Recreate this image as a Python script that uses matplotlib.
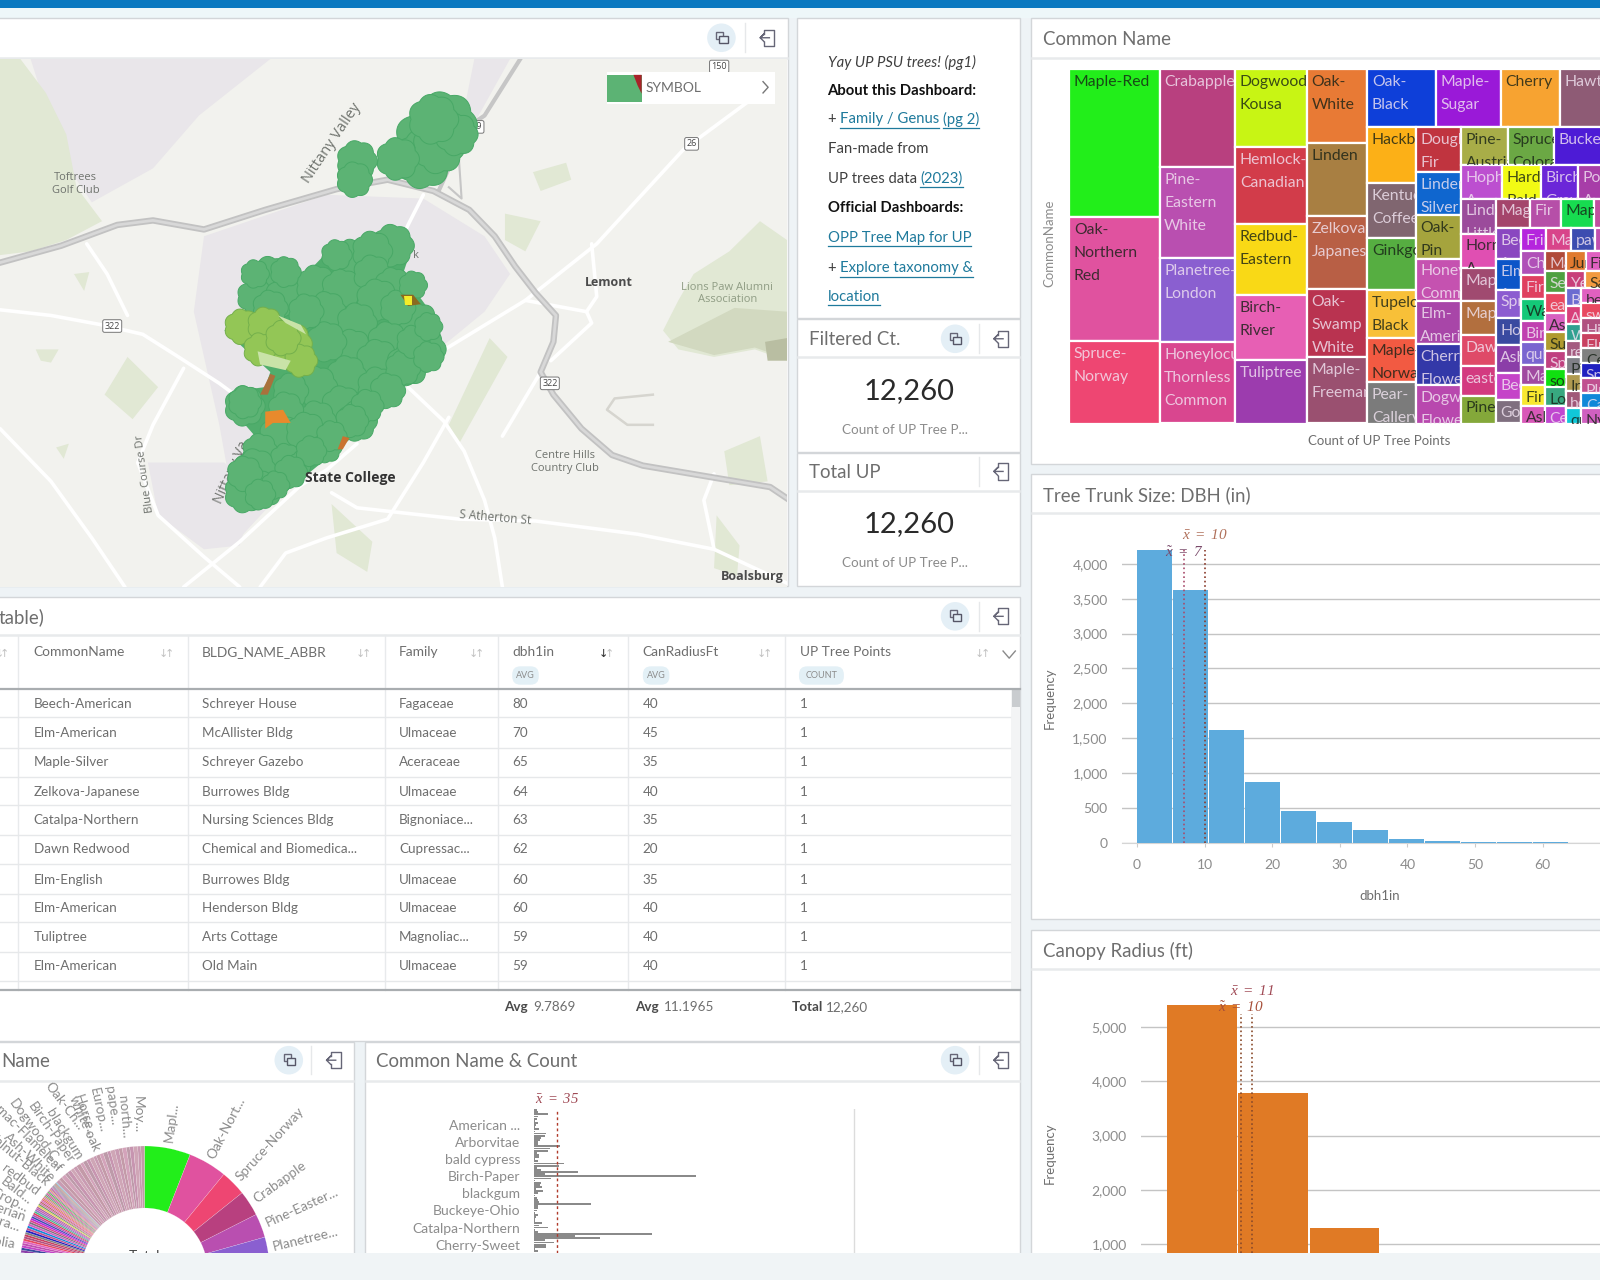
import numpy as np
import matplotlib
matplotlib.use("Agg")
import matplotlib.pyplot as plt
from matplotlib.colors import to_rgb
from matplotlib.patches import Rectangle, FancyBboxPatch, Circle
from matplotlib.path import Path
from matplotlib.ticker import StrMethodFormatter

plt.rcParams['font.family'] = ['Lato', 'DejaVu Sans']
plt.rcParams['mathtext.fontset'] = 'custom'
plt.rcParams['mathtext.rm'] = 'Liberation Serif:italic'
plt.rcParams['mathtext.it'] = 'Liberation Serif:italic'

GREY = '#6e6e6e'
LIGHT = '#8c8c8c'
LINK = '#1f7a9c'

# treemap groups: (name, count, colour)
col1 = [("Maple-Red", 763, "#22ee1a"), ("Oak-\nNorthern\nRed", 641, "#e0529f"), ("Spruce-\nNorway", 425, "#ee4672")]
col2 = [("Crabapple", 423, "#b8407f"), ("Pine-\nEastern\nWhite", 396, "#b94fb0"), ("Planetree-\nLondon", 363, "#8a5fd0"),
        ("Honeylocust-\nThornless\nCommon", 352, "#d9468f")]
col3 = [("Dogwood-\nKousa", 319, "#c8f514"), ("Hemlock-\nCanadian", 315, "#d23c4a"), ("Redbud-\nEastern", 294, "#f9d916"),
        ("Birch-\nRiver", 267, "#e75fb4"), ("Tuliptree", 259, "#9c3cae")]
col4 = [("Oak-\nWhite", 252, "#e87a35"), ("Linden", 252, "#a87f42"), ("Zelkova-\nJapanese", 250, "#b85f45"),
        ("Oak-\nSwamp\nWhite", 234, "#b93350"), ("Maple-\nFreeman", 229, "#9a5070")]
top_row = [("Oak-\nBlack", 225, "#0e3fd9"), ("Maple-\nSugar", 215, "#9a19d8"), ("Cherry", 194, "#f7a331"), ("Hawthorn", 212, "#8e5b75")]
col_a = [("Hackberry", 155, "#fcb017"), ("Kentucky\nCoffee", 152, "#806670"), ("Ginkgo", 145, "#56ae41"),
         ("Tupelo-\nBlack", 132, "#f8c038"), ("Maple-\nNorway", 123, "#f25a42"), ("Pear-\nCallery", 114, "#7b7b7b")]
col_b = [("Douglas\nFir", 117, "#c0343f"), ("Linden-\nSilver", 113, "#0f66cf"), ("Oak-\nPin", 113, "#a5a43d"),
         ("Honeylocust\nCommon", 111, "#c552b0"), ("Elm-\nAmerican", 113, "#a846a8"), ("Cherry-\nFlowering", 106, "#3338a8"),
         ("Dogwood-\nFlowering", 100, "#b848ae")]
row1 = [("Pine-\nAustrian", 100, "#a8ad48"), ("Spruce-\nColorado", 101, "#6ba844"), ("Buckeye", 152, "#4d1bd6")]
row2 = [("Hophornbeam\nA", 79, "#bc4fd0"), ("Hardy\nBald", 75, "#f2fa14"), ("Birch-\nGray", 72, "#6b26d8"), ("Poplar-\nA", 89, "#a73da8")]
col5 = [("Linden-\nLittle", 69, "#9b4b9b"), ("Hornbeam\nA", 69, "#e04fb2"), ("Maple", 65, "#a04a70"), ("Maple", 67, "#b26f3e"),
        ("Dawn", 61, "#df4a68"), ("eastern", 58, "#d33a80"), ("Pine", 55, "#84a83a")]
row3 = [("Magnolia", 56, "#a4456b"), ("Fir", 53, "#b64fa8"), ("Maple", 54, "#17dc50"), ("Mulberry", 51, "#c050a0")]
col6 = [("Beech\nA", 46, "#8a47c0"), ("Elm\nA", 44, "#0c55c8"), ("Spruce", 41, "#8c5cd0"), ("Horse", 40, "#3a4aa0"),
        ("Ash", 41, "#8b3ea8"), ("Beech", 39, "#c544c8"), ("Goldenrain", 34, "#7f6f7f")]
row4 = [("Fringetree", 33, "#b525dd"), ("Magnolia", 34, "#d8448a"), ("pawpaw", 32, "#3c4cb0"), ("Pear", 39, "#c050b0")]
col7 = [("Cherry", 32, "#b050b8"), ("Fir", 32, "#df4060"), ("Walnut", 30, "#14c878"), ("Birch", 28, "#c040b0"),
        ("quince", 30, "#7a65d0"), ("Maple", 28, "#a04aa0"), ("Fir", 27, "#f8e830"), ("Ash", 24, "#d858b8")]
row5 = [("Maple", 24, "#b04a3a"), ("Juniper", 23, "#e07a30"), ("Fir", 24, "#e060c0"), ("Oak", 21, "#c05090")]
col8 = [("Serviceberry", 26, "#4ea040"), ("eastern", 24, "#e84860"), ("Ash", 23, "#d860c0"), ("Sumac", 23, "#b09a30"),
        ("Spruce", 22, "#c04080"), ("sourwood", 21, "#10e010"), ("Locust", 23, "#38a880"), ("Cedar", 21, "#c048d0")]
row6 = [("Yew", 18, "#c8407a"), ("Sassafras", 19, "#f29a40"), ("Oak", 19, "#a05090")]
col9 = [("Birch", 16, "#6c6cd0"), ("Ash", 16, "#d8407a"), ("Willow", 15, "#30a090"), ("red", 15, "#a45a80"),
        ("Pine", 15, "#808088"), ("Ironwood", 15, "#b09a50"), ("holly", 15, "#a05878"), ("quaking", 14, "#10c8d8")]
col10 = [("beech", 37, "#e060c0"), ("sweetgum", 37, "#e84860"), ("Hickory", 37, "#b05080"), ("Elm", 37, "#c84060"),
         ("Cedar", 37, "#808080"), ("Spruce", 37, "#2020c0"), ("Plum", 37, "#c05090"), ("Catalpa", 37, "#1088d8"),
         ("Nyssa", 37, "#d060c0")]

# the rest of the species, only seen as thin pale slices of the donut
tail_counts = [62, 58, 71, 49, 66, 55, 60, 73, 52, 64, 57, 68, 50, 61, 59, 72, 53, 75, 66, 58, 70, 54, 63, 69, 51, 60]
tail_colors = ['#c99bb2', '#c39aa8', '#d3a3ba', '#bd9aa9', '#c795b0', '#cfa6b6']

# table
common_names = ["Beech-American", "Elm-American", "Maple-Silver", "Zelkova-Japanese", "Catalpa-Northern",
                "Dawn Redwood", "Elm-English", "Elm-American", "Tuliptree", "Elm-American"]
buildings = ["Schreyer House", "McAllister Bldg", "Schreyer Gazebo", "Burrowes Bldg", "Nursing Sciences Bldg",
             "Chemical and Biomedica...", "Burrowes Bldg", "Henderson Bldg", "Arts Cottage", "Old Main"]
families = ["Fagaceae", "Ulmaceae", "Aceraceae", "Ulmaceae", "Bignoniace...", "Cupressac...", "Ulmaceae", "Ulmaceae",
            "Magnoliac...", "Ulmaceae"]
dbh_vals = [80, 70, 65, 64, 63, 62, 60, 60, 59, 59]
canopy_vals = [40, 45, 35, 40, 35, 20, 35, 40, 40, 40]
point_vals = [1, 1, 1, 1, 1, 1, 1, 1, 1, 1]

# histograms
dbh_edges = [0, 5.33, 10.66, 15.99, 21.32, 26.65, 31.98, 37.31, 42.64, 47.97, 53.3, 58.63, 63.96]
dbh_freq = [4200, 3620, 1610, 870, 460, 300, 185, 60, 30, 12, 6, 3]
canopy_edges = [3.4, 9.7, 16.0, 22.3]
canopy_freq = [5406, 3794, 1295]

# common name & count bars, alphabetical
name_counts = [4, 6, 21, 6, 4, 1, 6, 3, 1, 7, 1, 19, 16, 10, 9, 6, 5, 40, 25, 22, 4, 7, 7, 1, 5, 46, 38, 4, 10, 68, 16,
               253, 26, 1, 10, 9, 12, 3, 14, 5, 1, 4, 5, 7, 88, 6, 5, 4, 1, 6, 3, 1, 1, 12, 8, 22, 1, 6, 184, 64, 103,
               17, 30, 19, 19, 1, 5]
name_ticks = [7, 15, 23, 31, 39, 47, 55, 63]
name_labels = ["American ...", "Arborvitae", "bald cypress", "Birch-Paper", "blackgum", "Buckeye-Ohio",
               "Catalpa-Northern", "Cherry-Sweet"]

donut_names = ["Mapl...", "Oak-Nort...", "Spruce-Norway", "Crabapple", "Pine-Easter...", "Planetree..."]
left_names = ["Moy...", "north...", "pape...", "Europ...", "Horse...", "white oak", "Oak-Ch...", "blackgum", "Birch-Paper",
              "Dogwood-C...", "Sumac-Flameleaf", "Ash-White", "Walnut-Black", "redbud", "Bald...", "Crop...", "Siberian",
              "Sierra...", "Magnolia"]
left_angles = [93, 98, 101.5, 106.5, 111.7, 111.6, 113.8, 120, 123.7, 129, 130, 135, 138, 143.6, 149, 152, 156, 161, 168.6]
left_radii = [138, 134, 149, 144, 143, 130, 156, 130, 131, 133, 131, 129, 130, 132, 133, 132, 130, 132, 132]
left_tilts = [-90, -85, -82, -78, -72, -66, -53, -58, -55, -54, -45, -43, -40, -37, -38, -26, -20, -18, -10]

# map: trees on campus, in map units
tree_x = [770, 690, 730, 530, 500, 560, 620, 670, 730, 770, 640, 740, 700, 820, 830, 780, 760, 690, 640, 600, 740, 680,
          620, 570, 740, 670, 620, 700, 560, 480, 550, 600, 640, 510, 560, 500, 480, 520, 590, 810, 800, 530,
          790, 760, 720, 690, 650, 610, 570, 540, 810, 840, 840, 480, 510, 500, 560, 660, 480]
tree_y = [625, 655, 640, 710, 760, 760, 730, 740, 700, 730, 800, 770, 830, 830, 900, 790, 880, 900, 880, 800, 930, 970,
          1000, 1010, 1000, 1050, 1090, 1090, 1060, 1050, 1130, 1120, 1160, 1170, 1190, 1220, 1280, 1270, 1200, 730, 940, 790,
          950, 1010, 1050, 1090, 1130, 1170, 1225, 1260, 880, 840, 920, 1230, 1285, 700, 695, 650, 1040]
tree_d = [36, 30, 34, 36, 30, 34, 34, 34, 32, 30, 34, 36, 34, 34, 38, 30, 34, 34, 34, 30, 36, 34, 36, 30, 34, 34, 34, 34, 30,
          34, 36, 34, 26, 30, 26, 36, 34, 30, 20, 24, 36, 30,
          30, 30, 28, 28, 26, 26, 28, 24, 28, 24, 26, 30, 26, 24, 26, 26, 28]
north_x = [870, 840, 830, 860, 780, 700, 695, 895, 850]
north_y = [305, 345, 395, 365, 395, 400, 450, 330, 290]
north_d = [56, 56, 50, 44, 36, 34, 30, 36, 42]
light_x = [475, 520, 570, 590, 510, 555]
light_y = [840, 835, 885, 930, 900, 870]
light_d = [30, 30, 36, 28, 28, 30]

roads_main = [[0, 120, 230, 300, 400, 520, 660, 760, 850, 920, 970, 1010, 1050, 1090, 1085, 1060, 1085, 1140, 1200, 1260, 1400, 1510, 1543],
              [670, 625, 570, 558, 582, 530, 475, 450, 480, 530, 600, 680, 750, 810, 880, 960, 1020, 1110, 1180, 1208, 1240, 1265, 1295]]
roads_arm = [[860, 880, 895, 950, 1020], [480, 420, 330, 280, 130]]
roads_white = [
    [[0, 100, 200, 280, 350, 430, 470], [795, 810, 835, 860, 920, 990, 1030]],
    [[830, 800, 790], [490, 570, 600]],
    [[0, 100, 180, 245], [1110, 1250, 1400, 1530]],
    [[170, 210, 250], [620, 700, 810]],
    [[360, 300, 270, 310, 400, 470], [950, 1100, 1200, 1340, 1450, 1530]],
    [[800, 870, 910, 950, 970, 985], [1000, 1090, 1170, 1300, 1400, 1530]],
    [[360, 470, 590, 640, 700], [1530, 1410, 1260, 1220, 1150]],
    [[650, 700, 900, 1050, 1250, 1400, 1543], [1280, 1320, 1350, 1355, 1390, 1430, 1520]],
    [[860, 1030, 1170, 1340, 1470], [910, 770, 620, 370, 240]],
    [[1030, 1150, 1170, 1160], [770, 800, 760, 620]],
    [[1150, 1160, 1080], [800, 830, 930]],
    [[880, 830, 760, 640, 560, 510], [1080, 1200, 1350, 1400, 1440, 1530]],
    [[985, 1060], [1130, 960]],
    [[1400, 1380, 1400], [1230, 1300, 1430]],
]
lavender_areas = [
    [[60, 530, 390, 300, 180, 140, 100], [130, 130, 280, 420, 510, 430, 300]],
    [[400, 640, 830, 950, 1000, 950, 860, 780, 620, 470, 430, 380], [600, 490, 500, 600, 700, 800, 900, 1000, 1180, 1400, 1100, 800]],
    [[290, 440, 500, 470, 400, 310], [1200, 1200, 1280, 1420, 1430, 1340]],
    [[930, 1000, 930, 890], [130, 130, 300, 400]],
]
green_areas = [
    [[1300, 1330, 1360, 1430, 1490, 1543, 1543, 1480, 1400, 1330], [850, 770, 700, 640, 560, 610, 930, 900, 920, 900]],
    [[0, 40, 90, 130, 150, 200, 130, 60, 0], [130, 130, 220, 330, 470, 560, 610, 640, 650]],
    [[205, 250, 310, 260], [1020, 920, 1000, 1085]],
    [[1045, 1110, 1120, 1060], [430, 405, 450, 480]],
    [[990, 1060, 1030, 990], [540, 560, 640, 610]],
    [[880, 960, 995, 900], [1100, 870, 920, 1150]],
    [[1420, 1490, 1505, 1430], [1170, 1130, 1250, 1260]],
    [[650, 730, 720, 660], [1310, 1410, 1490, 1440]],
    [[1405, 1450, 1445, 1400], [1340, 1420, 1500, 1480]],
    [[70, 115, 100, 80], [900, 900, 935, 930]],
    [[145, 175, 165], [700, 695, 745]],
    [[110, 135, 125], [1160, 1150, 1190]],
]


def rect_px(x0, y0, x1, y1, **kw):
    a = fig.add_axes([x0 / 1600, 1 - y1 / 1280, (x1 - x0) / 1600, (y1 - y0) / 1280], **kw)
    return a


fig = plt.figure(figsize=(16, 12.8), dpi=100, facecolor='#eef3f6')

# whole page works in the same pixel grid as the screenshot
ax = fig.add_axes([0, 0, 1, 1], zorder=0)
ax.set_xlim(0, 1568)
ax.set_ylim(1254.4, 0)
ax.axis('off')
ax.add_patch(Rectangle((0, 0), 1568, 8, fc='#0b79c0', ec='none'))
ax.add_patch(Rectangle((0, 8), 1568, 10, fc='#eef7f9', ec='none'))


def panel(x0, y0, x1, y1, head=None):
    ax.add_patch(Rectangle((x0, y0), x1 - x0, y1 - y0, fc='white', ec='#d3d6d9', lw=1))
    if head:
        ax.plot([x0 + 1, x1 - 1], [head, head], color='#e8eaec', lw=1.8)


panel(-2, 18, 772, 574, 57)
panel(781, 18, 1000, 312)
panel(781, 313, 1000, 443, 350)
panel(781, 444, 1000, 574, 481)
panel(-2, 585, 1000, 1020, 622)
panel(-2, 1021, 347, 1260, 1059)
panel(358, 1021, 1000, 1260, 1059)
panel(1010, 18, 1580, 455, 57)
panel(1010, 465, 1580, 901, 503)
panel(1010, 911, 1580, 1260, 950)


def title(x, y, s):
    ax.text(x, y + 1, s, fontsize=13.4, color=GREY, va='center')


title(1022, 38, "Common Name")
title(1022, 484, "Tree Trunk Size: DBH (in)")
title(1022, 931, "Canopy Radius (ft)")
title(793, 332, "Filtered Ct.")
title(793, 462, "Total UP")
title(-1, 604, "table)")
title(1, 1039, "Name")
title(368, 1039, "Common Name & Count")


def icon_copy(x, y):
    ax.add_patch(Circle((x, y), 14, fc='#e4eff6', ec='none'))
    ax.add_patch(Rectangle((x - 5, y - 6), 7, 7, fc='none', ec='#667', lw=1))
    ax.add_patch(Rectangle((x - 2, y - 2), 8, 7, fc='#e4eff6', ec='#556', lw=1))


def icon_exit(x, y):
    ax.plot([x - 3, x - 3, x + 7, x + 7, x - 3, x - 3], [y - 4, y - 8, y - 8, y + 8, y + 8, y + 4], color='#667', lw=1)
    ax.plot([x + 2, x - 7, x - 3, x - 7, x - 3], [y, y, y - 4, y, y + 4], color='#667', lw=1)
    ax.plot([x - 22, x - 22], [y - 14, y + 14], color='#e6e8ea', lw=1)


for cx, cy in [(707, 37), (936, 332), (936, 604), (283, 1039), (936, 1039)]:
    icon_copy(cx, cy)
for cx, cy in [(752, 37), (981, 332), (981, 462), (981, 604), (327, 1039), (981, 1039)]:
    icon_exit(cx, cy)

# info text
renderer = fig.canvas.get_renderer()


def runs(x, y, parts):
    for s, style in parts:
        kw = dict(fontsize=10.7, color='#3f3f3f', va='center')
        if style == 'link':
            kw['color'] = LINK
        if style == 'bold':
            kw.update(fontweight='bold', color='#111111')
        if style == 'ital':
            kw.update(fontstyle='italic')
        t = ax.text(x, y, s, **kw)
        box = t.get_window_extent(renderer).transformed(ax.transData.inverted())
        if style == 'link':
            ax.plot([x, box.x1], [y + 8, y + 8], color=LINK, lw=0.9)
        x = box.x1


runs(811, 61, [("Yay UP PSU trees! (pg1)", 'ital')])
runs(811, 89, [("About this Dashboard:", 'bold')])
runs(811, 117, [("+ ", None), ("Family / Genus", 'link'), (" ", None), ("(pg 2)", 'link')])
runs(811, 146, [("Fan-made from", None)])
runs(811, 175, [("UP trees data ", None), ("(2023)", 'link')])
runs(811, 204, [("Official Dashboards:", 'bold')])
runs(811, 233, [("OPP Tree Map for UP", 'link')])
runs(811, 263, [("+ ", None), ("Explore taxonomy &", 'link')])
runs(811, 291, [("location", 'link')])

for yn, ys in [(383, 421), (514, 552)]:
    ax.text(891, yn, "12,260", fontsize=21, color='#2a2a2a', ha='center', va='center')
    ax.text(887, ys, "Count of UP Tree P...", fontsize=9.7, color=LIGHT, ha='center', va='center')

# table
col_lines = [17.6, 184, 377, 488, 615, 769]
col_text = [33, 198, 391, 502, 630, 784]
row_y = [690, 718, 747, 776, 804, 832, 862, 890, 918, 947]
sep_y = [703, 733, 761, 789, 818, 847, 876, 904, 933, 961]
for xl in col_lines:
    ax.plot([xl, xl], [622, 970], color='#e8eaec', lw=1)
for ys in sep_y:
    ax.plot([-2, 990], [ys, ys], color='#e6e8ea', lw=1)
ax.plot([-2, 1000], [675, 675], color='#a9adb0', lw=1.6)
ax.plot([-2, 1000], [970, 970], color='#a9adb0', lw=1.6)
ax.add_patch(Rectangle((991, 676), 9, 294, fc='#f3f4f5', ec='none'))
ax.add_patch(Rectangle((992, 676), 8, 17, fc='#c9cccf', ec='none'))
for xt, s in zip(col_text, ["CommonName", "BLDG_NAME_ABBR", "Family", "dbh1in", "CanRadiusFt", "UP Tree Points"]):
    ax.text(xt, 639, s, fontsize=9.9, color=GREY, va='center')
for xb, s, w in [(515, "AVG", 26), (643, "AVG", 26), (805, "COUNT", 44)]:
    ax.add_patch(FancyBboxPatch((xb - w / 2, 653), w, 18, boxstyle='round,pad=0,rounding_size=8', fc='#e3f0f6', ec='none'))
    ax.text(xb, 662, s, fontsize=6.5, color=LIGHT, ha='center', va='center')
for xs in [2, 163, 356, 467, 594, 749, 963]:
    ax.text(xs - 2.8, 641, "\u2193", fontsize=8, family='DejaVu Sans', color='#c2c2c2', ha='center', va='center')
    ax.text(xs + 2.8, 641, "\u2191", fontsize=8, family='DejaVu Sans', color='#c2c2c2', ha='center', va='center')
ax.text(591.2, 641, "\u2193", fontsize=8, family='DejaVu Sans', color='#333333', ha='center', va='center')
ax.plot([983, 989, 995], [638, 645, 638], color='#8a8a8a', lw=1)
for i, yt in enumerate(row_y):
    for xt, s in zip(col_text, [common_names[i], buildings[i], families[i], dbh_vals[i], canopy_vals[i], point_vals[i]]):
        ax.text(xt, yt, str(s), fontsize=9.7, color=GREY, va='center')
runs_tot = [(494, "Avg", 523, "9.7869"), (622, "Avg", 651, "11.1965"), (776, "Total", 809, "12,260")]
for xa, a, xb, b in runs_tot:
    ax.text(xa, 987, a, fontsize=9.7, fontweight='bold', color='#4a4a4a', va='center')
    ax.text(xb, 987, b, fontsize=9.7, color=GREY, va='center')

ax.text(1028, 238, "CommonName", fontsize=9.5, color=LIGHT, rotation=90, ha='center', va='center')
ax.text(1352, 432, "Count of UP Tree Points", fontsize=9.5, color=GREY, ha='center', va='center')
ax.text(1029, 684, "Frequency", fontsize=9.5, color=GREY, rotation=90, ha='center', va='center')
ax.text(1352, 878, "dbh1in", fontsize=9.5, color=GREY, ha='center', va='center')
ax.text(1029, 1130, "Frequency", fontsize=9.5, color=GREY, rotation=90, ha='center', va='center')

# map
mp = rect_px(0, 59, 787, 587, zorder=1)
mp.set_xlim(0, 1543)
mp.set_ylim(1530, 130)
mp.set_xticks([])
mp.set_yticks([])
for sp in mp.spines.values():
    sp.set_visible(False)
mp.set_facecolor('#f2f2ee')
for xs, ys in lavender_areas:
    mp.fill(xs, ys, color='#e9e6ea', lw=0)
for xs, ys in green_areas:
    mp.fill(xs, ys, color='#e1e8d4', lw=0)
mp.fill([1310, 1400, 1480, 1543, 1543, 1440], [880, 915, 895, 925, 800, 790], color='#d2d9c0', lw=0)
mp.fill([1500, 1543, 1543, 1505], [880, 870, 930, 930], color='#b9bea2', lw=0)
mp.plot([1280, 1205, 1190, 1230, 1280], [1020, 1030, 1060, 1100, 1100], color='#d6d5cf', lw=1.8)
for xs, ys in roads_white:
    mp.plot(xs, ys, color='white', lw=2.6, solid_capstyle='round')
mp.plot(*roads_arm, color='#c6c6c6', lw=3)
mp.plot([880, 905, 900, 890], [470, 500, 400, 350], color='#c6c6c6', lw=1.5)
mp.plot(*roads_main, color='#c2c2c2', lw=4.6, solid_joinstyle='round')
mp.plot(*roads_main, color='#d8d8d8', lw=2)

map_grey = '#6f736e'
for xt, yt, s in [(148, 445, "Toftrees"), (148, 478, "Golf Club"), (1108, 1182, "Centre Hills"), (1108, 1216, "Country Club")]:
    mp.text(xt, yt, s, fontsize=8, color=map_grey, family='Open Sans', ha='center', va='center')
for xt, yt, s in [(1426, 735, "Lions Paw Alumni"), (1426, 768, "Association")]:
    mp.text(xt, yt, s, fontsize=8, color='#8f9c84', family='Open Sans', ha='center', va='center')
mp.text(1194, 723, "Lemont", fontsize=9, fontweight='bold', color='#4b4b4b', family='Open Sans', ha='center', va='center')
mp.text(1475, 1502, "Boalsburg", fontsize=9, fontweight='bold', color='#4b4b4b', family='Open Sans', ha='center', va='center')
mp.text(970, 1345, "S Atherton St", fontsize=8.5, color=map_grey, family='Open Sans', rotation=-5, ha='center', va='center')
mp.text(650, 352, "Nittany Valley", fontsize=10.5, color=map_grey, family='Open Sans', rotation=56, ha='center', va='center')
mp.text(285, 1230, "Blue Course Dr", fontsize=8, color=map_grey, family='Open Sans', rotation=98, ha='center', va='center')
mp.text(455, 1225, "Nittany Va", fontsize=10, color=map_grey, family='Open Sans', rotation=66, ha='center', va='center')
mp.text(815, 652, "k", fontsize=8, color=map_grey, family='Open Sans', ha='center', va='center')
for xt, yt, s in [(220, 838, "322"), (1078, 990, "322"), (1356, 355, "26"), (1410, 150, "150"), (935, 310, "99")]:
    mp.text(xt, yt, s, fontsize=6.5, color='#444444', family='Open Sans', ha='center', va='center',
            bbox=dict(boxstyle='round,pad=0.2', fc='white', ec='#777777', lw=0.7))

theta = np.linspace(0, 2 * np.pi, 141)
radius = 1 + 0.12 * np.abs(np.cos(3.5 * theta))
blob = Path(np.column_stack([radius * np.cos(theta), radius * np.sin(theta)]), closed=True)


def trees(xs, ys, ds, col, edge):
    mp.scatter(xs, ys, s=(np.array(ds) * 0.72 * 1.2) ** 2, marker=blob, c=col, edgecolors=edge, linewidths=0.7, zorder=5)


# filled body under the tree crowns so no map shows through
mp.fill([770, 810, 790, 860, 860, 800, 720, 640, 540, 490, 450, 460, 500, 455, 460, 520, 530, 440, 480, 490, 550, 600, 650, 730],
        [580, 620, 700, 830, 930, 980, 1100, 1190, 1300, 1320, 1290, 1210, 1130, 1060, 1010, 1000, 960, 850, 800, 700, 670, 700, 630, 610],
        color='#50ad6c', lw=0, zorder=4)
trees(north_x, north_y, north_d, '#5cb374', '#48a866')
trees(tree_x, tree_y, tree_d, '#5cb374', '#48a866')
mp.fill([545, 590, 600, 560], [810, 835, 860, 830], color='#c9e3a8', lw=0, zorder=6)
trees(light_x, light_y, light_d, '#93c656', '#74b04c')
mp.fill([505, 570, 560, 510], [905, 930, 955, 940], color='#c9e3a8', lw=0, zorder=7)
mp.fill([520, 555, 570, 535, 520], [1065, 1060, 1095, 1095, 1110], color='#e88a2c', lw=0, zorder=7)
mp.fill([530, 540, 525, 510], [965, 970, 1020, 1020], color='#a9713c', lw=0, zorder=7)
mp.fill([672, 685, 672, 662], [1130, 1135, 1165, 1165], color='#c9722f', lw=0, zorder=7)
mp.fill([785, 810, 825, 800], [755, 755, 780, 785], color='#8a6a20', lw=0, zorder=7)
mp.fill([792, 808, 808, 795], [758, 758, 782, 782], color='#f4ec2a', lw=0, zorder=8)
mp.text(686, 1242, "State College", fontsize=10, fontweight='bold', color='#333333', family='Open Sans', ha='center', va='center', zorder=9)

mp.add_patch(Rectangle((1190, 165), 330, 85, fc='white', ec='none', zorder=9))
mp.add_patch(Rectangle((1190, 172), 68, 71, fc='#5cb374', ec='none', zorder=10))
mp.fill([1242, 1258, 1258, 1250], [172, 172, 222, 200], color='#a8232a', lw=0, zorder=11)
mp.text(1265, 207, "SYMBOL", fontsize=10, color=GREY, va='center', zorder=11)
mp.plot([1496, 1506, 1496], [190, 205, 220], color='#777777', lw=1, zorder=11)

# treemap
node = ('h', [('v', col9), ('v', col10)])
for c, r in [(col8, row6), (col7, row5), (col6, row4), (col5, row3)]:
    node = ('h', [('v', c), ('v', [('h', r), node])])
node = ('v', [('h', row1), ('h', row2), node])
node = ('h', [('v', col_a), ('v', col_b), node])
node = ('v', [('h', top_row), node])
root = ('h', [('v', col1), ('v', col2), ('v', col3), ('v', col4), node])


def total(n):
    if len(n) == 3:
        return n[1]
    return sum(total(c) for c in n[1])


def layout(n, x, y, w, h, out):
    if len(n) == 3:
        out.append((n, x, y, w, h))
        return
    t = total(n)
    for c in n[1]:
        f = total(c) / t
        if n[0] == 'h':
            layout(c, x, y, w * f, h, out)
            x += w * f
        else:
            layout(c, x, y, w, h * f, out)
            y += h * f


cells = []
layout(root, 0, 0, total(root), 1, cells)
tm = rect_px(1069.4, 69.4, 1600, 423.5, zorder=2)
tm.set_xlim(0, 520 / 0.0484)
tm.set_ylim(1, 0)
tm.axis('off')
for (name, val, col), x, y, w, h in cells:
    r = Rectangle((x, y), w, h, fc=col, ec='white', lw=1.6)
    tm.add_patch(r)
    rgb = to_rgb(col)
    lum = 0.3 * rgb[0] + 0.59 * rgb[1] + 0.11 * rgb[2]
    tc = '#152015' if lum > 0.5 else '#f3e6f3'
    t = tm.annotate(name, xy=(x, y), xytext=(3.2, -4.2), textcoords='offset points', fontsize=11.3, color=tc, alpha=0.8,
                    va='top', ha='left', linespacing=1.82, annotation_clip=False)
    t.set_clip_path(r)

# histograms


def hist_axes(a, edges, freq, col, ticks):
    a.bar(edges[:-1], freq, width=np.diff(edges) * 0.975, align='edge', color=col, edgecolor='none', zorder=3)
    a.set_yticks(ticks)
    a.yaxis.set_major_formatter(StrMethodFormatter('{x:,.0f}'))
    a.grid(axis='y', color='#c4c4c4', lw=1, zorder=0)
    a.tick_params(axis='y', length=0, pad=10, labelsize=10, labelcolor=LIGHT)
    a.tick_params(axis='x', length=3, color='#cccccc', pad=9, labelsize=10, labelcolor=LIGHT)
    for k, sp in a.spines.items():
        sp.set_visible(k == 'bottom')
    a.spines['bottom'].set_color('#d5d5d5')


h1 = rect_px(1121.6, 540, 1600, 842.7, zorder=2)
h1.set_xlim(-2.28, 68.5)
h1.set_ylim(0, (842.7 - 540) / 0.0697)
hist_axes(h1, dbh_edges, dbh_freq, '#5dabdd', [0, 500, 1000, 1500, 2000, 2500, 3000, 3500, 4000])
h1.set_xticks([0, 10, 20, 30, 40, 50, 60])
h1.vlines(7, 0, 4200, color='#a84a6a', ls=':', lw=1.2, zorder=4)
h1.vlines(10, 0, 4200, color='#8a3a2a', ls=':', lw=1.2, zorder=4)
h1.annotate(r'$\bar{x}\ =\ 10$', xy=(10, 4200), xytext=(0, 11), textcoords='offset points', fontsize=11, color='#b0705a',
            ha='center', va='center', annotation_clip=False, zorder=6)
h1.annotate(r'$\tilde{x}\ =\ 7$', xy=(7, 4200), xytext=(0, -2), textcoords='offset points', fontsize=11, color='#7a4a6a',
            ha='center', va='center', annotation_clip=False, zorder=6)

h2 = rect_px(1140.7, 1000, 1600, 1253, zorder=2)
h2.set_xlim(1.05, 41.7)
h2.set_ylim(834, 5504)
hist_axes(h2, canopy_edges, canopy_freq, '#e07a25', [1000, 2000, 3000, 4000, 5000])
h2.set_xticks([])
h2.spines['bottom'].set_visible(False)
h2.vlines(9.9, 834, 5250, color='#8a4a2a', ls=':', lw=1.2, zorder=4)
h2.vlines(10.9, 834, 5250, color='#8a4a2a', ls=':', lw=1.2, zorder=4)
h2.annotate(r'$\bar{x}\ =\ 11$', xy=(10.9, 5406), xytext=(0, 10), textcoords='offset points', fontsize=11, color='#a04a55',
            ha='center', va='center', annotation_clip=False, zorder=6)
h2.annotate(r'$\tilde{x}\ =\ 10$', xy=(9.9, 5406), xytext=(0, -2), textcoords='offset points', fontsize=11, color='#a8503a',
            ha='center', va='center', annotation_clip=False, zorder=6)

# common name bars
bx = rect_px(534.3, 1109, 1010, 1253, zorder=2)
bx.barh(np.arange(len(name_counts)), name_counts, height=0.85, color='#8a8a8a', zorder=3)
bx.set_xlim(0, (1010 - 534.3) / 0.64)
bx.set_ylim(66.9, -0.5)
bx.set_yticks(name_ticks)
bx.set_yticklabels(name_labels)
bx.set_xticks([500])
bx.set_xticklabels([])
bx.grid(axis='x', color='#dcdcdc', lw=1, zorder=0)
bx.tick_params(length=0, pad=10, labelsize=10, labelcolor=LIGHT)
bx.tick_params(axis='x', pad=0)
for sp in bx.spines.values():
    sp.set_visible(False)
bx.axvline(35, color='#b03a2a', ls=(0, (2, 2)), lw=1, zorder=4)
bx.annotate(r'$\bar{x}\ =\ 35$', xy=(35, -0.5), xytext=(0, 7.5), textcoords='offset points', fontsize=10.5, color='#a04a55',
            ha='center', va='center', annotation_clip=False)

# donut
leaves = sorted([c[0] for c in cells], key=lambda n: -n[1])
counts = [n[1] for n in leaves] + tail_counts
dusty = np.array(to_rgb('#c99bb2'))
colors = []
for n in leaves:
    c = np.array(to_rgb(n[2]))
    colors.append(tuple(0.7 * c + 0.3 * dusty) if n[1] <= 30 else tuple(c))
colors += [tail_colors[i % len(tail_colors)] for i in range(len(tail_counts))]
R, r0 = 125.0, 63.0
dn = rect_px(0, 1082, 354, 1253, zorder=2)
dn.pie(counts, colors=colors, startangle=90, counterclock=False, radius=R,
       wedgeprops=dict(width=R - r0, edgecolor='white', linewidth=0.1))
dn.set_aspect('auto')
dn.set_xlim(-144.5, 354 - 144.5)
dn.set_ylim(1271 - 1253, 1271 - 1082)
dn.axis('off')
tot = float(sum(counts))
cum = 0
for i, s in enumerate(donut_names):
    th = 90 - 360 * (cum + counts[i] / 2) / tot
    cum += counts[i]
    rr = R + 6
    dn.text(rr * np.cos(np.radians(th)), rr * np.sin(np.radians(th)), s, rotation=th + 3, rotation_mode='anchor', ha='left', va='center',
            fontsize=9.8, color=LIGHT, clip_on=True)
for s, th, rr, tilt in zip(left_names, left_angles, left_radii, left_tilts):
    dn.text(rr * np.cos(np.radians(th)), rr * np.sin(np.radians(th)), s, rotation=tilt, rotation_mode='anchor', ha='right', va='center',
            fontsize=9.8, color=LIGHT, clip_on=True)
dn.text(0, 14.5, "Total", fontsize=10, color='#444444', ha='center', va='center')

# page bottom strip covers the panels, as in the screenshot
ov = fig.add_axes([0, 0, 1, 1], zorder=10)
ov.set_xlim(0, 1568)
ov.set_ylim(1254.4, 0)
ov.axis('off')
ov.add_patch(Rectangle((0, 1228), 1568, 27, fc='#f0f4f6', ec='none'))

fig.savefig('out.png', dpi=100, facecolor=fig.get_facecolor())
